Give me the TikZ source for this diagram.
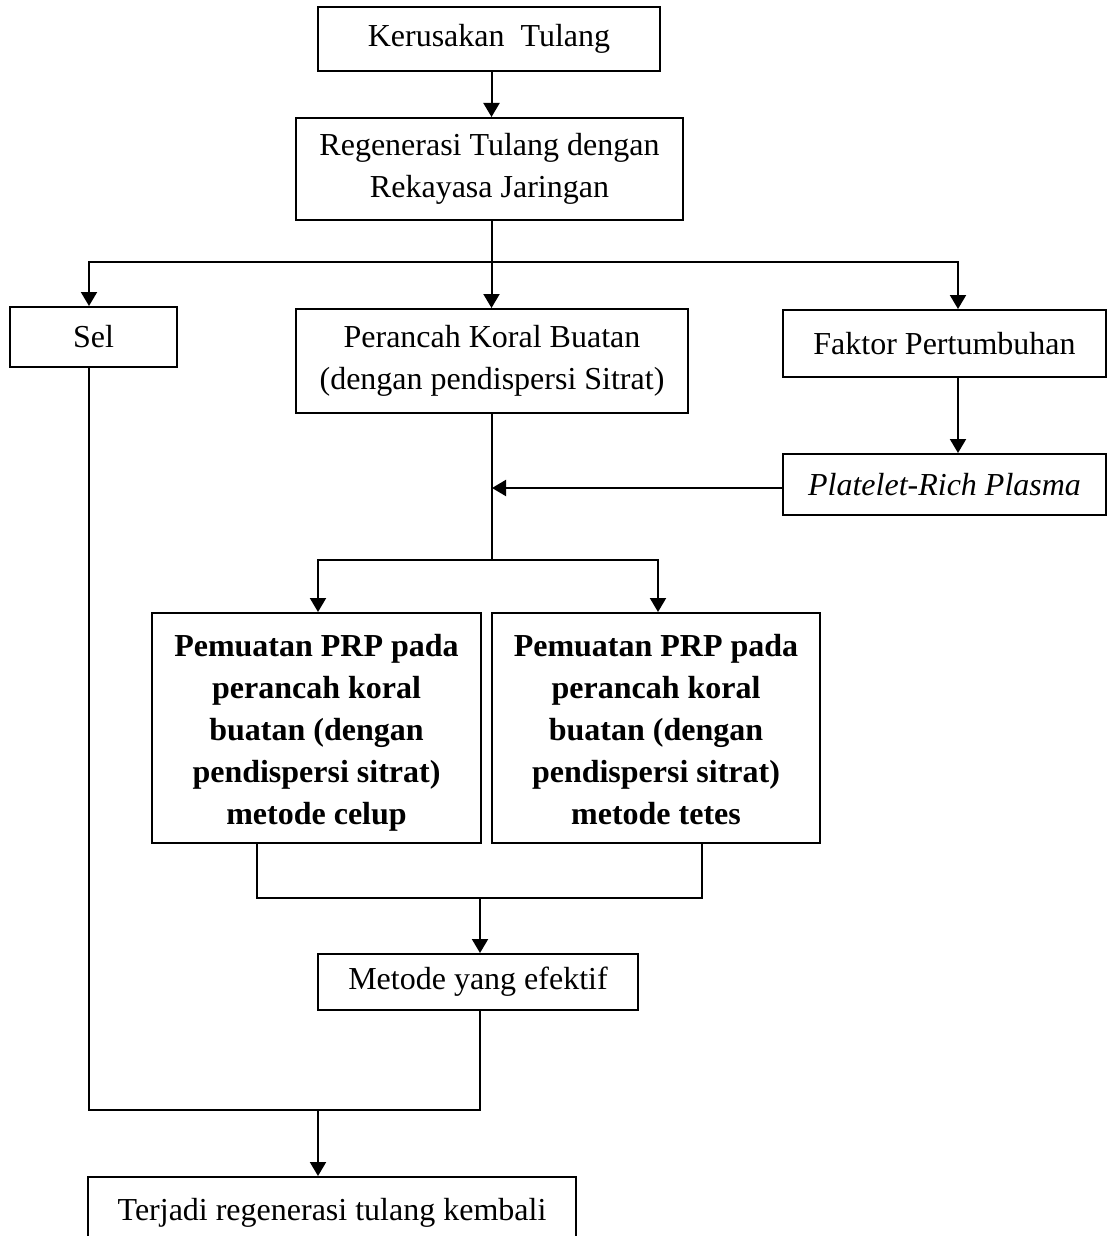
\documentclass[tikz,border=0pt]{standalone}
\usepackage{fontspec}
\setmainfont{Liberation Serif}
\usetikzlibrary{arrows.meta}
\tikzset{
  box/.style={draw, line width=2pt, inner sep=0pt, align=center,
    font=\fontsize{32}{42}\selectfont},
  conn/.style={line width=2pt},
  arr/.style={conn, -{Triangle[length=14pt,width=16pt]}},
}
\begin{document}
\begin{tikzpicture}[x=1pt,y=-1pt]
\clip (0,0) rectangle (1108,1236);
\fill[white] (0,0) rectangle (1108,1236);
% nodes
\node[box, minimum width=342, minimum height=64] (ker) at (489,39) {Kerusakan\ \ Tulang};
\node[box, minimum width=387, minimum height=102] (reg) at (489.5,169) {Regenerasi Tulang dengan\\Rekayasa Jaringan};
\node[box, minimum width=167, minimum height=60] (sel) at (93.5,337) {Sel};
\node[box, minimum width=392, minimum height=104] (per) at (492,361) {Perancah Koral Buatan\\(dengan pendispersi Sitrat)};
\node[box, minimum width=323, minimum height=67] (fak) at (944.5,343.5) {Faktor Pertumbuhan};
\node[box, minimum width=323, minimum height=61] (prp) at (944.5,484.5) {\itshape Platelet-Rich Plasma};
\node[box, minimum width=329, minimum height=230, font=\fontsize{32}{42}\selectfont\bfseries] (celup) at (316.5,728)
  {\rule{0pt}{32pt}Pemuatan PRP pada\\perancah koral\\buatan (dengan\\pendispersi sitrat)\\metode celup};
\node[box, minimum width=328, minimum height=230, font=\fontsize{32}{42}\selectfont\bfseries] (tetes) at (656,728)
  {\rule{0pt}{32pt}Pemuatan PRP pada\\perancah koral\\buatan (dengan\\pendispersi sitrat)\\metode tetes\vphantom{p}};
\node[box, minimum width=320, minimum height=56] (met) at (478,982) {Metode yang efektif};
\node[box, minimum width=488, minimum height=72] (bot) at (332,1213) {Terjadi regenerasi tulang kembali};
% helper coordinates
\coordinate (br) at (491.5,262);
\coordinate (xs) at (89,0);
\coordinate (xf) at (958,0);
\coordinate (j1) at (492,488);
\coordinate (j2) at (492,560);
\coordinate (xa) at (318,0);
\coordinate (xb) at (658,0);
\coordinate (xl) at (257,0);
\coordinate (xr) at (702,0);
\coordinate (m1) at (480,898);
\coordinate (m2) at (480,1110);
\coordinate (xc) at (318,0);
% connectors
\draw[arr] (ker.south -| br) -- (reg.north -| br);
\draw[conn] (reg.south -| br) -- (br);
\draw[arr] (br) -| (xs |- sel.north);
\draw[arr] (br) -- (per.north -| br);
\draw[arr] (br) -| (xf |- fak.north);
\draw[arr] (xf |- fak.south) -- (xf |- prp.north);
\draw[arr] (prp.west |- j1) -- (j1);
\draw[conn] (per.south -| j2) -- (j2);
\draw[arr] (j2) -| (xa |- celup.north);
\draw[arr] (j2) -| (xb |- tetes.north);
\draw[conn] (xl |- celup.south) |- (m1) -| (xr |- tetes.south);
\draw[arr] (m1) -- (m1 |- met.north);
\draw[conn] (m2 |- met.south) -- (m2) -| (xs |- sel.south);
\draw[arr] (xc |- m2) -- (xc |- bot.north);
\end{tikzpicture}
\end{document}
